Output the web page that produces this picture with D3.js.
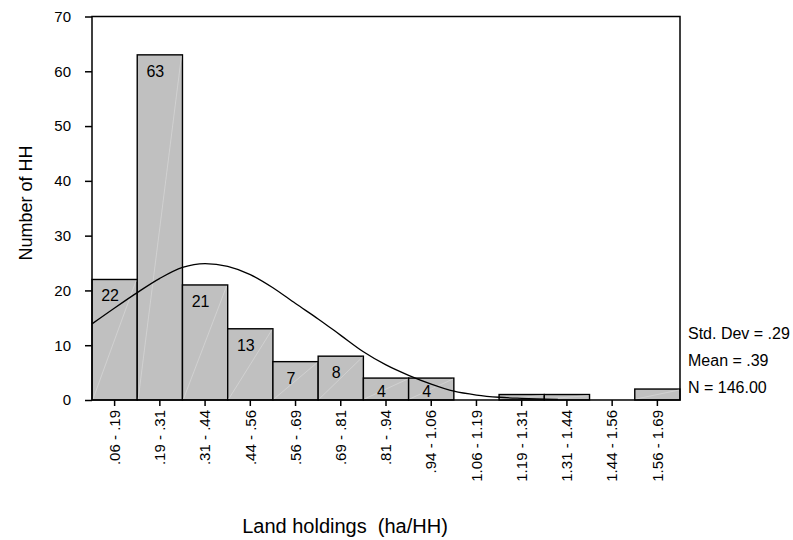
<!DOCTYPE html>
<html>
 <head>
 <title>Land holdings histogram</title>
 <meta charset="UTF-8">
 <style type="text/css">
   body { margin: 0; background: #fff; }
   svg { font-family: "Liberation Sans", Arial, sans-serif; }
   .xtitle { white-space: pre; }
 </style>
 <script src="https://d3js.org/d3.v7.min.js"></script>
 </head>
 <body>
 <script type="text/javascript">

    // bins of land holdings (ha/HH) and number of households in each
    var binLabels = [".06 - .19", ".19 - .31", ".31 - .44", ".44 - .56", ".56 - .69", ".69 - .81",
                     ".81 - .94", ".94 - 1.06", "1.06 - 1.19", "1.19 - 1.31", "1.31 - 1.44",
                     "1.44 - 1.56", "1.56 - 1.69"];
    var counts = [22, 63, 21, 13, 7, 8, 4, 4, 0, 1, 1, 0, 2];

    // normal curve (ha/HH, households)
    var curveX = [0.0625, 0.125, 0.1875, 0.25, 0.3125, 0.375, 0.4375, 0.5, 0.5625, 0.625, 0.6875,
                  0.75, 0.8125, 0.875, 0.9375, 1.0, 1.0625, 1.125, 1.1875, 1.25, 1.35];
    var curveY = [13.9, 16.8, 19.6, 22.2, 24.2, 24.9, 24.4, 22.9, 20.5, 17.6, 14.8,
                  11.8, 8.8, 6.4, 4.5, 2.9, 1.6, 0.9, 0.5, 0.3, 0.1];
    var landDomain = [0.0625, 1.6875];

    var yTicks = [0, 10, 20, 30, 40, 50, 60, 70];
    var statLines = ["Std. Dev = .29", "Mean = .39", "N = 146.00"];

    function drawHistogram()
    {
        var plotLeft = 92, plotRight = 680, plotTop = 16.5, plotBottom = 400;

        var svg = d3.select("body")
            .append("svg")
            .attr("width", 793)
            .attr("height", 540);

        var x = d3.scaleBand()
            .domain(binLabels)
            .range([plotLeft, plotRight])
            .padding(0);

        var xLand = d3.scaleLinear()
            .domain(landDomain)
            .range([plotLeft, plotRight]);

        var y = d3.scaleLinear()
            .domain([0, 70])
            .range([plotBottom, plotTop]);

        // bars
        var bars = binLabels.map(function(b, i) { return {bin: b, n: counts[i]}; })
            .filter(function(d) { return d.n > 0; });

        svg.append("g").selectAll("rect")
            .data(bars)
            .enter().append("rect")
            .attr("x", function(d) { return x(d.bin); })
            .attr("y", function(d) { return y(d.n); })
            .attr("width", x.bandwidth())
            .attr("height", function(d) { return y(0) - y(d.n); })
            .attr("fill", "#c0c0c0")
            .attr("stroke", "#000")
            .attr("stroke-width", 1.4);

        // faint seams across the bars
        svg.append("g").selectAll("line")
            .data(bars)
            .enter().append("line")
            .attr("x1", function(d) { return x(d.bin) + 1; })
            .attr("y1", y(0) - 1)
            .attr("x2", function(d) { return x(d.bin) + x.bandwidth() - 1; })
            .attr("y2", function(d) { return y(d.n) + 1; })
            .attr("stroke", "#dcdcdc")
            .attr("stroke-width", 0.6);

        // counts inside the bars
        svg.append("g").selectAll("text")
            .data(bars.filter(function(d) { return d.n >= 4; }))
            .enter().append("text")
            .attr("x", function(d) { return x(d.bin) + x.bandwidth() / 2 - 4.5; })
            .attr("y", function(d) { return Math.min(y(d.n) + 22, 397); })
            .attr("text-anchor", "middle")
            .attr("font-size", 16)
            .attr("fill", "#000")
            .text(function(d) { return d.n; });

        // normal curve
        var line = d3.line()
            .x(function(d) { return xLand(d[0]); })
            .y(function(d) { return y(d[1]); })
            .curve(d3.curveMonotoneX);

        svg.append("path")
            .attr("d", line(curveX.map(function(v, i) { return [v, curveY[i]]; })))
            .attr("fill", "none")
            .attr("stroke", "#000")
            .attr("stroke-width", 1.3);

        // frame
        svg.append("rect")
            .attr("x", plotLeft)
            .attr("y", plotTop)
            .attr("width", plotRight - plotLeft)
            .attr("height", plotBottom - plotTop)
            .attr("fill", "none")
            .attr("stroke", "#000")
            .attr("stroke-width", 1.5);

        // axes
        var yAxis = d3.axisLeft(y).tickValues(yTicks).tickSize(7).tickSizeOuter(0).tickPadding(14);
        var gy = svg.append("g")
            .attr("transform", "translate(" + plotLeft + ",0)")
            .call(yAxis);
        gy.select(".domain").remove();
        gy.selectAll("line").attr("stroke-width", 1.5);
        gy.selectAll("text").attr("font-size", 15).attr("font-family", null).attr("fill", "#000");

        var xAxis = d3.axisBottom(x).tickSize(6).tickSizeOuter(0);
        var gx = svg.append("g")
            .attr("transform", "translate(0," + plotBottom + ")")
            .call(xAxis);
        gx.select(".domain").remove();
        gx.selectAll("line").attr("stroke-width", 1.5);
        gx.selectAll("text")
            .attr("font-size", 15)
            .attr("font-family", null)
            .attr("fill", "#000")
            .attr("transform", "rotate(-90)")
            .attr("x", -10)
            .attr("y", 0)
            .attr("dy", "0.35em")
            .attr("text-anchor", "end");

        // titles
        svg.append("text")
            .attr("class", "xtitle")
            .attr("x", 345)
            .attr("y", 533)
            .attr("text-anchor", "middle")
            .attr("font-size", 20)
            .text("Land holdings  (ha/HH)");

        svg.append("text")
            .attr("transform", "translate(32,203) rotate(-90)")
            .attr("text-anchor", "middle")
            .attr("font-size", 18)
            .text("Number of HH");

        // summary stats
        svg.append("g").selectAll("text")
            .data(statLines)
            .enter().append("text")
            .attr("x", 688)
            .attr("y", function(d, i) { return 339 + i * 27; })
            .attr("font-size", 16)
            .text(function(d) { return d; });
    }

    drawHistogram();

 </script>
 </body>
</html>
